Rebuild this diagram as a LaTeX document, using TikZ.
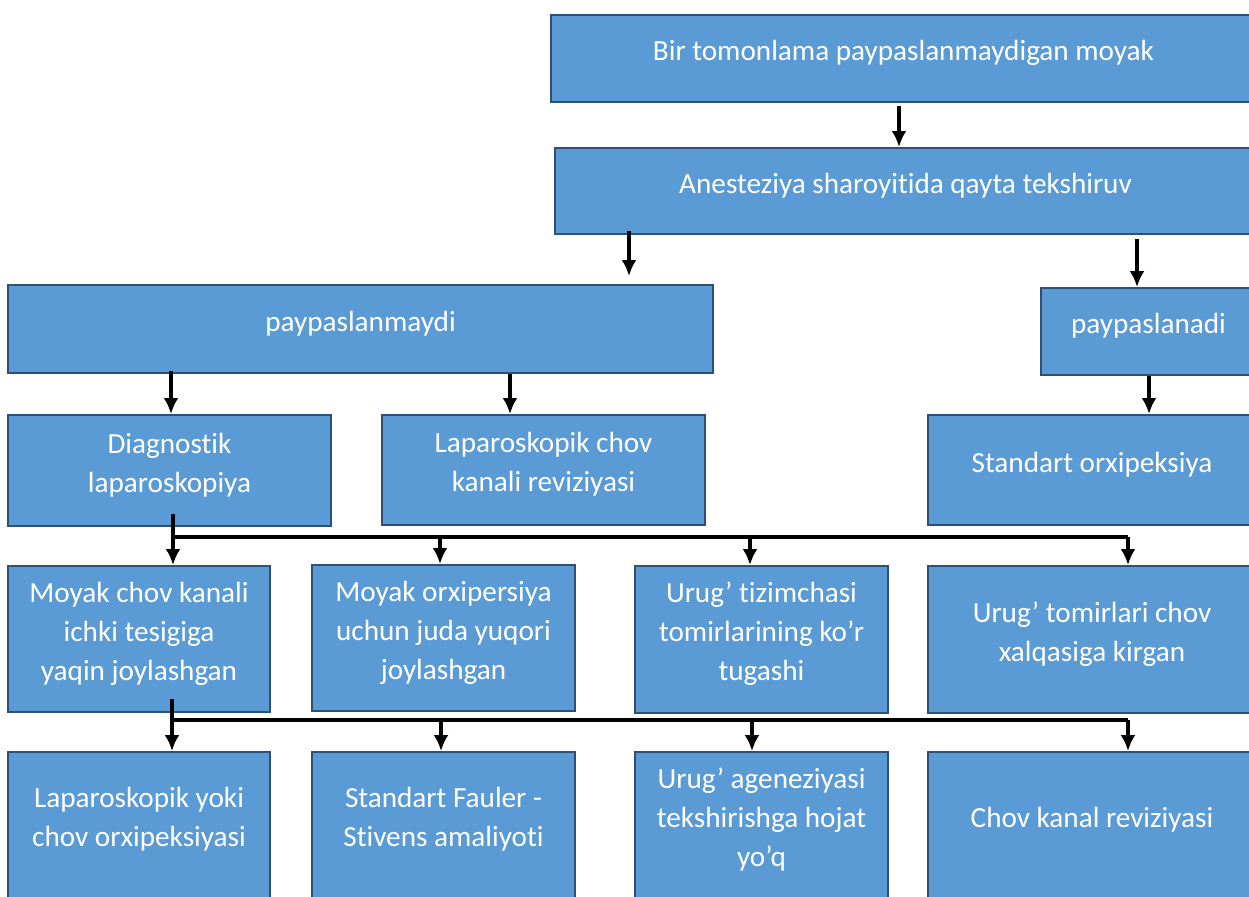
\documentclass[tikz,border=0pt]{standalone}
\usepackage{fontspec}
\setmainfont{Carlito}[RawFeature={-liga;-clig;-calt;-dlig}]
\usetikzlibrary{arrows.meta}
\definecolor{boxfill}{HTML}{5B9BD5}
\definecolor{boxline}{HTML}{2F5075}
\tikzset{
  box/.style={draw=boxline, line width=1pt, fill=boxfill, text=white,
    align=center, inner sep=0pt, text depth=8pt,
    font=\fontsize{14.6}{19.5}\selectfont},
  conn/.style={line width=1.8pt},
  arr/.style={conn, -{Latex[length=8pt,width=7.5pt]}}
}
\begin{document}
\begin{tikzpicture}[x=0.5pt, y=-0.5pt]
  \useasboundingbox (0,0) rectangle (1249,896);
  % top of the tree
  \node[box, minimum width=352.5pt, minimum height=43.5pt] (top) at (903.5,58.5) {Bir tomonlama paypaslanmaydigan moyak};
  \node[box, minimum width=350.5pt, minimum height=43pt] (exam) at (905.5,191) {Anesteziya sharoyitida qayta tekshiruv};
  \node[box, minimum width=352.5pt, minimum height=44pt] (nonpalp) at (360.5,329) {paypaslanmaydi};
  \node[box, minimum width=107.5pt, minimum height=43.5pt] (palp) at (1148.5,331.5) {paypaslanadi};
  % second level
  \node[box, minimum width=161.5pt, minimum height=55.5pt] (diag) at (169.5,470.5) {Diagnostik\\laparoskopiya};
  \node[box, minimum width=161.5pt, minimum height=55pt] (lapchov) at (543.5,470) {Laparoskopik chov\\kanali reviziyasi};
  \node[box, minimum width=164pt, minimum height=55pt] (stdorx) at (1092,470) {Standart orxipeksiya};
  % findings
  \node[box, minimum width=131pt, minimum height=73pt] (near) at (139,639) {Moyak chov kanali\\ichki tesigiga\\yaqin joylashgan};
  \node[box, minimum width=131.5pt, minimum height=73pt] (high) at (443.5,638) {Moyak orxipersiya\\uchun juda yuqori\\joylashgan};
  \node[box, minimum width=126.5pt, minimum height=73.5pt] (blind) at (761.5,639.5) {Urug’ tizimchasi\\tomirlarining ko’r\\tugashi};
  \node[box, minimum width=164pt, minimum height=73.5pt] (ring) at (1092,639.5) {Urug’ tomirlari chov\\xalqasiga kirgan};
  % actions
  \node[box, minimum width=131pt, minimum height=73pt] (lap) at (139,825) {Laparoskopik yoki\\chov orxipeksiyasi};
  \node[box, minimum width=131.5pt, minimum height=73pt] (fs) at (443.5,825) {Standart Fauler -\\Stivens amaliyoti};
  \node[box, minimum width=126.5pt, minimum height=73pt] (agen) at (761.5,825) {Urug’ ageneziyasi\\tekshirishga hojat\\yo’q};
  \node[box, minimum width=164pt, minimum height=73pt] (rev) at (1092,825) {Chov kanal reviziyasi};
  % simple arrows
  \draw[arr, shorten <=1.5pt] (top.south -| 899,0) -- (exam.north -| 899,0);
  \draw[arr, shorten <=-2pt, shorten >=4pt] (exam.south -| 629,0) -- (nonpalp.north -| 629,0);
  \draw[arr, shorten <=2pt] (exam.south -| 1137,0) -- (palp.north -| 1137,0);
  \draw[arr, shorten <=-1.5pt] (nonpalp.south -| 171,0) -- (diag.north -| 171,0);
  \draw[arr] (nonpalp.south -| 510,0) -- (lapchov.north -| 510,0);
  \draw[arr] (palp.south -| 1149,0) -- (stdorx.north -| 1149,0);
  % branches
  \coordinate (j1) at (173,537);
  \coordinate (j2) at (172,720);
  \draw[conn, shorten <=-6.5pt] (diag.south -| j1) -- (j1) -- (j1 -| 1128,0);
  \draw[conn, shorten <=-7pt] (near.south -| j2) -- (j2) -- (j2 -| 1128,0);
  \foreach \n/\x in {near/173, high/440, blind/750, ring/1128}
    \draw[arr] (j1 -| \x,0) -- (\n.north -| \x,0);
  \foreach \n/\x in {lap/172, fs/441, agen/752, rev/1128}
    \draw[arr] (j2 -| \x,0) -- (\n.north -| \x,0);
\end{tikzpicture}
\end{document}
